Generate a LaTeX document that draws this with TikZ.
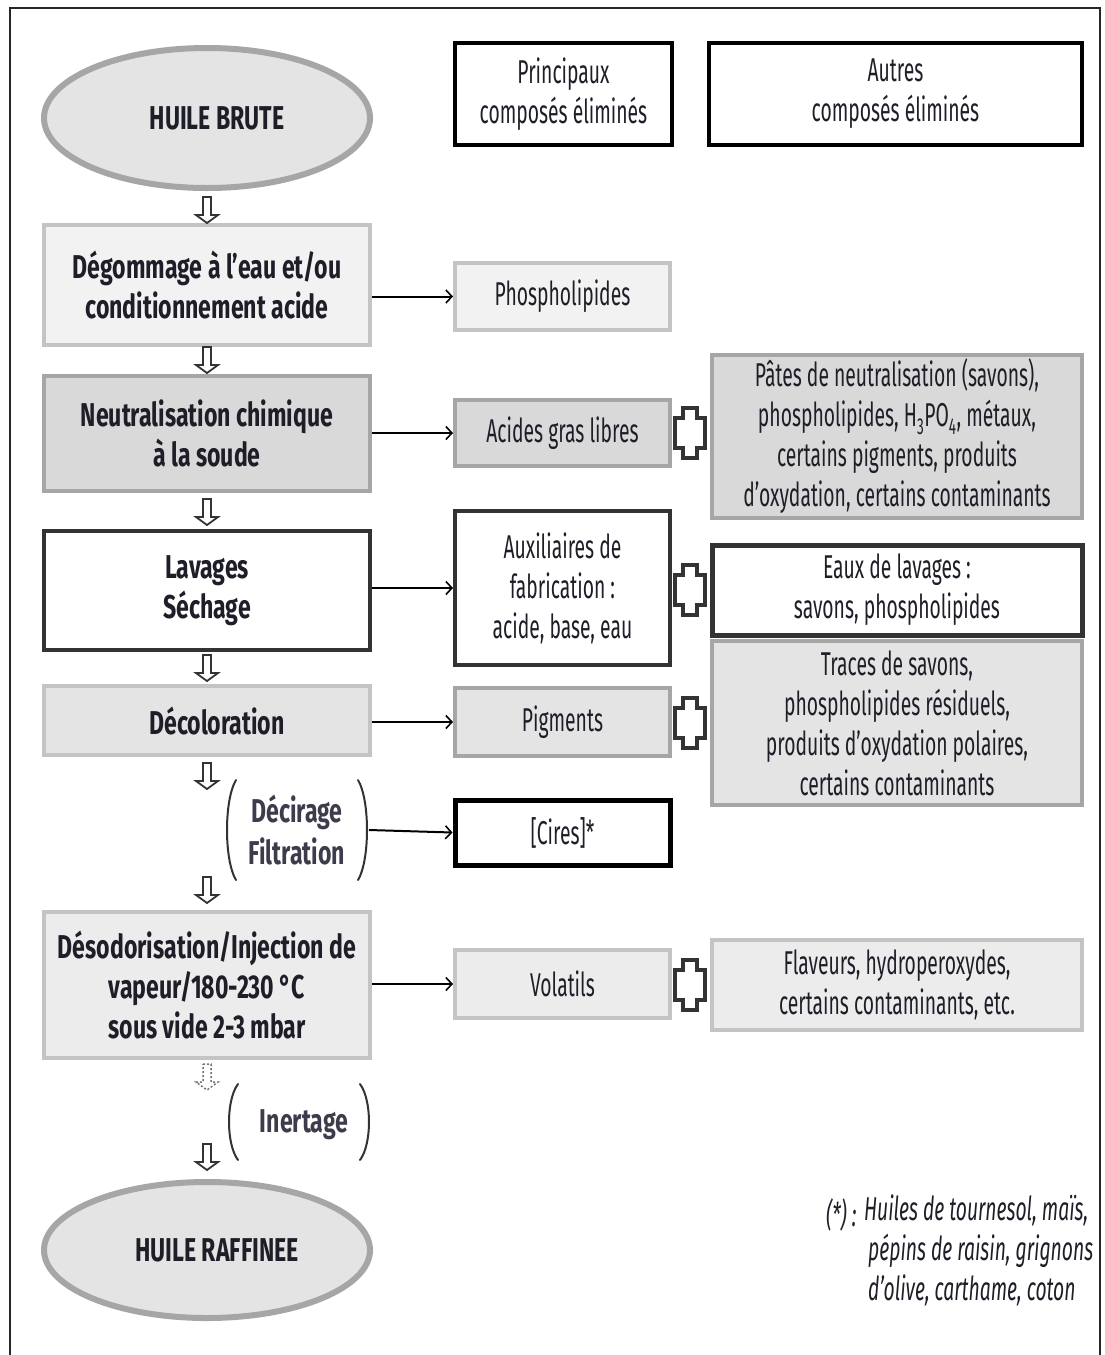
\documentclass[tikz,border=0pt]{standalone}
\usepackage{fontspec}
\setmainfont{Fira Sans}[FakeStretch=0.585, BoldFeatures={FakeStretch=0.70}]
\usetikzlibrary{shapes.geometric,arrows.meta}
\definecolor{gA}{HTML}{F2F2F2}
\definecolor{gB}{HTML}{D9D9D9}
\definecolor{gC}{HTML}{E4E4E4}
\definecolor{gD}{HTML}{ECECEC}
\definecolor{bdL}{HTML}{C4C4C4}
\definecolor{bdM}{HTML}{A6A6A6}
\definecolor{dk}{HTML}{333333}
\definecolor{txt}{HTML}{1E1E28}
\definecolor{txtB}{HTML}{3C3C4C}
\begin{document}
\begin{tikzpicture}[x=1pt,y=-1pt,
  every node/.style={text=txt},
  base/.style={rectangle, align=center, inner sep=0pt, line width=4pt},
  stepbold/.style={base, font=\fontsize{33}{40}\selectfont\bfseries, minimum width=326pt},
  side/.style={base, font=\fontsize{33}{40}\selectfont},
  midbox/.style={side, minimum width=215pt},
  rightbox/.style={side, minimum width=370pt},
  oval/.style={ellipse, draw=bdM, fill=gC, line width=6pt, minimum width=326pt, font=\fontsize{33}{40}\selectfont\bfseries},
  conn/.style={line width=2pt, draw=black, -{Straight Barb[length=6pt,width=13pt,line width=1.6pt]}},
  paren/.style={line width=2pt, draw=dk, line cap=round},
  pics/darr/.style={code={\draw[line width=1.8pt, draw=dk, fill=white, line join=miter] (-4,-13)--(4,-13)--(4,5)--(11,5)--(0,13)--(-11,5)--(-4,5)--cycle;}},
  pics/darrdot/.style={code={\draw[line width=1.5pt, draw=black!55, fill=white, dash pattern=on 2pt off 2pt] (-4,-13)--(4,-13)--(4,5)--(11,5)--(0,13)--(-11,5)--(-4,5)--cycle;}},
  pics/plus/.style={code={\draw[line width=4pt, draw=dk, fill=white, line join=miter] (-7,-25)--(7,-25)--(7,-15)--(15,-15)--(15,15)--(7,15)--(7,25)--(-7,25)--(-7,15)--(-15,15)--(-15,-15)--(-7,-15)--cycle;}}
]
\useasboundingbox (0,0) rectangle (1105,1355);
\fill[white] (0,0) rectangle (1105,1355);
% outer frame
\draw[line width=2pt, draw=black!85] (10,1360) -- (10,8) -- (1100,8) -- (1100,1360);

% headers
\node[side, draw=black, minimum width=217pt, minimum height=102pt] (h1) at (563.5,94) {Principaux\\composés éliminés};
\node[side, draw=black, minimum width=373pt, minimum height=102pt] (h2) at (895.5,94) {Autres\\composés éliminés};

% left column
\node[oval, minimum height=140pt] (e1) at (207,118) {\hspace*{20pt}HUILE BRUTE};
\node[stepbold, draw=bdL, fill=gA, minimum height=120pt] (b1) at (207,285) {Dégommage à l'eau et/ou\\conditionnement acide};
\node[stepbold, draw=bdM, fill=gB, minimum height=115pt] (b2) at (207,433.5) {Neutralisation chimique\\à la soude};
\node[stepbold, draw=dk, fill=white, minimum height=119pt, font=\fontsize{33}{40}\selectfont\bfseries\color{txtB}] (b3) at (207,590.5) {Lavages\\Séchage};
\node[stepbold, draw=bdL, fill=gC, minimum height=69pt] (b4) at (207,720.5) {\hspace*{20pt}Décoloration};
\node[text=txtB, font=\fontsize{33}{42}\selectfont\bfseries, align=center] (dec) at (297,830) {Décirage\\Filtration};
\node[stepbold, draw=bdL, fill=gD, minimum height=146pt] (b5) at (207,985) {Désodorisation/Injection de\\vapeur/180-230 °C\\sous vide 2-3 mbar};
\node[text=txtB, font=\fontsize{33}{40}\selectfont\bfseries] (inert) at (304,1125) {Inertage};
\node[oval, minimum height=136pt] (e2) at (207,1250) {\hspace*{20pt}HUILE RAFFINEE};

% parentheses
\draw[paren] (236,780) .. controls (224,800) and (224,860) .. (236,880);
\draw[paren] (358,780) .. controls (370,800) and (370,860) .. (358,880);
\coordinate (decR) at (369,830);
\draw[paren] (238,1084) .. controls (226,1100) and (226,1144) .. (238,1160);
\draw[paren] (360,1084) .. controls (372,1100) and (372,1144) .. (360,1160);

% down arrows
\pic at (207,210) {darr};
\pic at (207,360) {darr};
\pic at (207,512) {darr};
\pic at (207,668) {darr};
\pic at (207,776) {darr};
\pic at (207,890) {darr};
\pic at (207,1077) {darrdot};
\pic at (207,1157) {darr};

% middle column
\node[midbox, draw=bdL, fill=gA, minimum height=67pt] (phos) at (562.5,296.5) {Phospholipides};
\node[midbox, draw=bdM, fill=gB, minimum height=66pt] (agl) at (562.5,433) {Acides gras libres};
\node[midbox, draw=dk, fill=white, minimum height=154pt] (aux) at (562.5,588) {Auxiliaires de\\fabrication :\\acide, base, eau};
\node[midbox, draw=bdM, fill=gC, minimum height=68pt] (pig) at (562.5,722) {Pigments};
\node[midbox, draw=black, line width=5pt, fill=white, minimum height=65pt] (cires) at (562.5,832.5) {[Cires]*};
\node[midbox, draw=bdL, fill=gD, minimum height=68pt] (vol) at (562.5,984) {Volatils};

% right column
\node[rightbox, draw=bdM, fill=gB, minimum height=163pt] (pates) at (897,436.5) {Pâtes de neutralisation (savons),\\phospholipides, H\textsubscript{3}PO\textsubscript{4}, métaux,\\certains pigments, produits\\d'oxydation, certains contaminants};
\node[rightbox, draw=dk, line width=5pt, fill=white, minimum height=90pt] (eaux) at (897,590) {Eaux de lavages :\\savons, phospholipides};
\node[rightbox, draw=bdM, fill=gC, minimum height=164pt] (traces) at (897,723) {Traces de savons,\\phospholipides résiduels,\\produits d'oxydation polaires,\\certains contaminants};
\node[rightbox, draw=bdL, fill=gD, minimum height=90pt] (flav) at (897,985) {Flaveurs, hydroperoxydes,\\certains contaminants, etc.};

% plus signs
\pic at (690,433) {plus};
\pic at (690,590) {plus};
\pic at (690,723) {plus};
\pic at (690,985) {plus};

% horizontal connectors
\draw[conn] (phos.west -| b1.east) -- (phos.west);
\draw[conn] (agl.west -| b2.east) -- (agl.west);
\draw[conn] (aux.west -| b3.east) -- (aux.west);
\draw[conn] (pig.west -| b4.east) -- (pig.west);
\draw[conn] (decR) -- (cires.west);
\draw[conn] (vol.west -| b5.east) -- (vol.west);

% footnote
\node[font=\fontsize{33}{40}\selectfont\itshape, anchor=east] (fnA) at (860,1215) {(*) :};
\node[font=\fontsize{33}{40}\selectfont\itshape, align=left, anchor=north west, inner sep=0pt] (fn) at (864,1195) {Huiles de tournesol, maïs,\\\hspace*{4pt}pépins de raisin, grignons\\\hspace*{4pt}d'olive, carthame, coton};
\end{tikzpicture}
\end{document}
